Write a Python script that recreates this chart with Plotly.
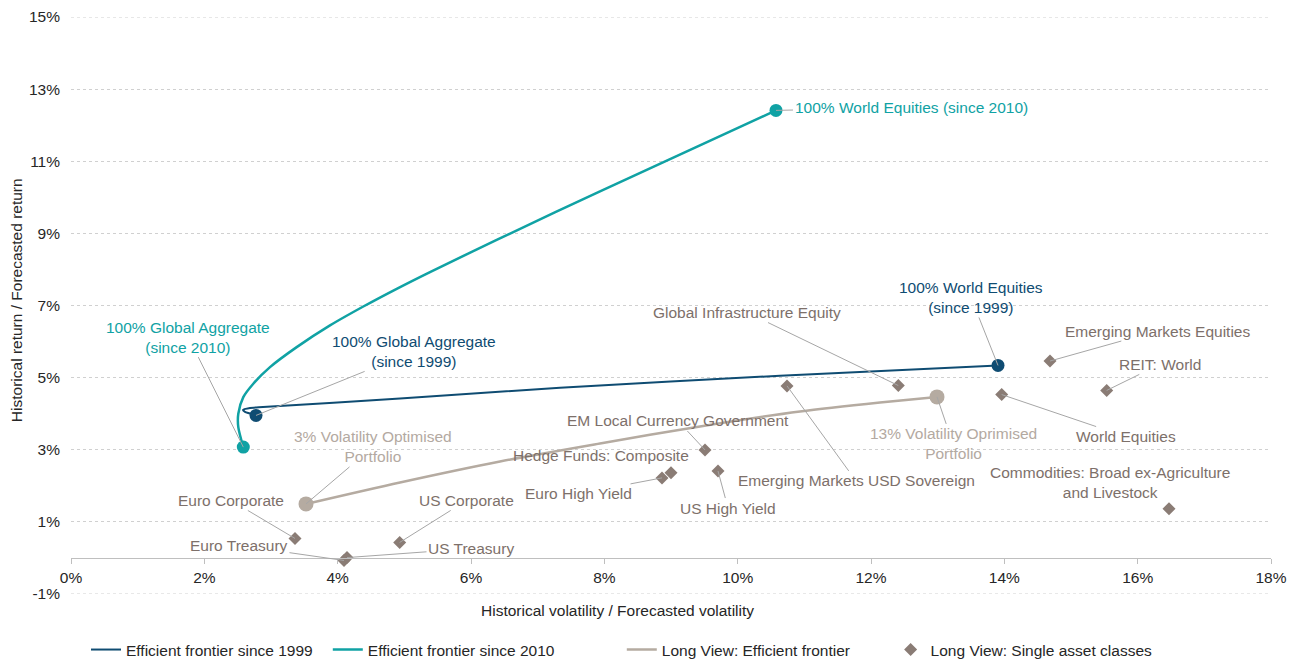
import plotly.graph_objects as go

# ---------------- data ----------------
ef1999_x = [2.775, 2.61, 2.58, 2.685, 2.88, 4.935, 7.335, 10.635, 13.905]
ef1999_y = [3.952, 4.049, 4.104, 4.16, 4.182, 4.423, 4.72, 5.053, 5.338]

ef2010_x = [2.5845, 2.5095, 2.5095, 2.5845, 2.7345, 2.985, 3.3855, 3.885, 4.3845, 4.8855,
            5.385, 6.385, 7.935, 10.575]
ef2010_y = [3.073, 3.627, 3.999, 4.459, 4.831, 5.291, 5.846, 6.448, 6.972, 7.463,
            7.928, 8.818, 10.167, 12.41]

lv_x = [3.525, 4.935, 6.435, 7.935, 9.435, 10.935, 12.135, 12.99]
lv_y = [1.498, 2.094, 2.676, 3.175, 3.647, 4.063, 4.312, 4.465]

asset_names = ["Euro Corporate", "Euro Treasury", "US Treasury", "US Corporate",
               "Euro High Yield", "Hedge Funds: Composite", "EM Local Currency Government",
               "US High Yield", "Emerging Markets USD Sovereign", "Global Infrastructure Equity",
               "World Equities", "Emerging Markets Equities", "REIT: World",
               "Commodities: Broad ex-Agriculture<br>and Livestock"]
asset_vol = [3.36, 4.095, 4.14, 4.93, 8.865, 9.0, 9.51, 9.705, 10.74, 12.41, 13.96, 14.685, 15.535, 16.47]
asset_ret = [0.54, -0.07, 0.01, 0.43, 2.22, 2.36, 2.995, 2.41, 4.77, 4.78, 4.53, 5.46, 4.645, 1.365]

x_ticks = [0, 2, 4, 6, 8, 10, 12, 14, 16, 18]
x_ticktext = ["0%", "2%", "4%", "6%", "8%", "10%", "12%", "14%", "16%", "18%"]
y_ticks = [-1, 1, 3, 5, 7, 9, 11, 13, 15]
y_ticktext = ["-1%", "1%", "3%", "5%", "7%", "9%", "11%", "13%", "15%"]

# ---------------- styles ----------------
FONT = "Arial, 'Liberation Sans', sans-serif"
FS = 15.5
BLUE = "#0F4C72"
TEAL = "#10A2A4"
LVLINE = "#B5ABA1"
DIAM = "#8A7C75"
GREYTXT = "#7D706A"
LIGHTTXT = "#B3A9A1"
LEAD = "#A6A6A6"
DARK = "#262626"
GRID = "#D0D0D0"

fig = go.Figure()

fig.add_trace(go.Scatter(x=ef1999_x, y=ef1999_y, mode="lines", name="Efficient frontier since 1999",
                         legend="legend",
                         line=dict(color=BLUE, width=2, shape="spline", smoothing=0.5)))
fig.add_trace(go.Scatter(x=ef2010_x, y=ef2010_y, mode="lines", name="Efficient frontier since 2010",
                         legend="legend2",
                         line=dict(color=TEAL, width=2.5, shape="spline", smoothing=0.8)))
fig.add_trace(go.Scatter(x=lv_x, y=lv_y, mode="lines", name="Long View: Efficient frontier",
                         legend="legend3",
                         line=dict(color=LVLINE, width=2.5, shape="spline", smoothing=0.8)))
fig.add_trace(go.Scatter(x=asset_vol, y=asset_ret, mode="markers", name="Long View: Single asset classes",
                         legend="legend4",
                         marker=dict(symbol="diamond", size=10, color=DIAM)))

# endpoint markers
fig.add_trace(go.Scatter(x=[ef1999_x[0], ef1999_x[-1]], y=[ef1999_y[0], ef1999_y[-1]], mode="markers",
                         showlegend=False, marker=dict(size=13, color=BLUE)))
fig.add_trace(go.Scatter(x=[ef2010_x[0], ef2010_x[-1]], y=[ef2010_y[0], ef2010_y[-1]], mode="markers",
                         showlegend=False, marker=dict(size=13, color=TEAL)))
fig.add_trace(go.Scatter(x=[lv_x[0], lv_x[-1]], y=[lv_y[0], lv_y[-1]], mode="markers",
                         showlegend=False, marker=dict(size=15, color=LVLINE)))

# ---------------- annotations ----------------
def ann(x, y, text, ax, ay, color, leader=True):
    fig.add_annotation(x=x, y=y, text=text, ax=ax, ay=ay, showarrow=True, arrowhead=0,
                       arrowwidth=1, arrowcolor=LEAD if leader else "rgba(0,0,0,0)",
                       font=dict(family=FONT, size=FS, color=color), align="center",
                       standoff=0, borderpad=1)

asset_offsets = [(-64, -38, True), (-105, -15, True), (124, -9, True), (67, -42, True),
                 (-84, 16, True), (-70, -17, False), (-27, -29, True), (10, 37, True),
                 (69, 95, True), (-151, -73, True), (124, 42, True), (107, -30, True),
                 (53, -26, True), (-59, -26, False)]
for n, xv, yv, (ax, ay, ld) in zip(asset_names, asset_vol, asset_ret, asset_offsets):
    ann(xv, yv, n, ax, ay, GREYTXT, ld)

ann(lv_x[0], lv_y[0], "3% Volatility Optimised<br>Portfolio", 67, -57, LIGHTTXT)
ann(lv_x[-1], lv_y[-1], "13% Volatility Oprimised<br>Portfolio", 16, 47, LIGHTTXT)
ann(ef2010_x[0], ef2010_y[0], "100% Global Aggregate<br>(since 2010)", -55, -110, TEAL)
ann(ef2010_x[-1], ef2010_y[-1], "100% World Equities (since 2010)", 135, -3, TEAL)
ann(ef1999_x[0], ef1999_y[0], "100% Global Aggregate<br>(since 1999)", 158, -64, BLUE)
ann(ef1999_x[-1], ef1999_y[-1], "100% World Equities<br>(since 1999)", -27, -68, BLUE)

# axis titles
fig.add_annotation(xref="paper", yref="paper", x=0.455, y=-0.028, yanchor="middle",
                   text="Historical volatility / Forecasted volatility", showarrow=False,
                   font=dict(family=FONT, size=FS, color=DARK))
fig.add_annotation(xref="paper", yref="paper", x=-0.0455, y=0.51, xanchor="center", yanchor="middle",
                   text="Historical return / Forecasted return", textangle=-90, showarrow=False,
                   font=dict(family=FONT, size=FS, color=DARK))

# edge gridlines (top and bottom of the value range)
for yv in (y_ticks[0], y_ticks[-1]):
    fig.add_shape(type="line", xref="paper", x0=0, x1=1, yref="y", y0=yv, y1=yv,
                  line=dict(color=GRID, width=1, dash="dot"), layer="below")

leg_common = dict(orientation="h", xanchor="left", y=-0.097, yanchor="middle",
                  font=dict(family=FONT, size=FS, color=DARK), bgcolor="rgba(0,0,0,0)")

fig.update_layout(
    width=1289, height=651,
    margin=dict(l=63, r=26, t=9, b=65, autoexpand=False),
    paper_bgcolor="white", plot_bgcolor="white",
    font=dict(family=FONT, size=FS, color=DARK),
    xaxis=dict(range=[0, 18], tickvals=x_ticks, ticktext=x_ticktext, showgrid=False,
               zeroline=False, showline=True, linecolor="#BFBFBF", linewidth=1,
               ticks="outside", ticklen=5, tickcolor="#BFBFBF", anchor="free", position=0.0625,
               tickfont=dict(size=FS, color=DARK)),
    yaxis=dict(range=[-1, 15], tickvals=y_ticks, ticktext=y_ticktext, showgrid=True,
               gridcolor=GRID, griddash="dot", gridwidth=1, zeroline=False, showline=False,
               ticks="", ticklabelstandoff=10, tickfont=dict(size=FS, color=DARK)),
    legend=dict(x=0.0125, **leg_common),
    legend2=dict(x=0.214, **leg_common),
    legend3=dict(x=0.459, **leg_common),
    legend4=dict(x=0.683, **leg_common),
    showlegend=True,
)

fig.write_html("out.html")
